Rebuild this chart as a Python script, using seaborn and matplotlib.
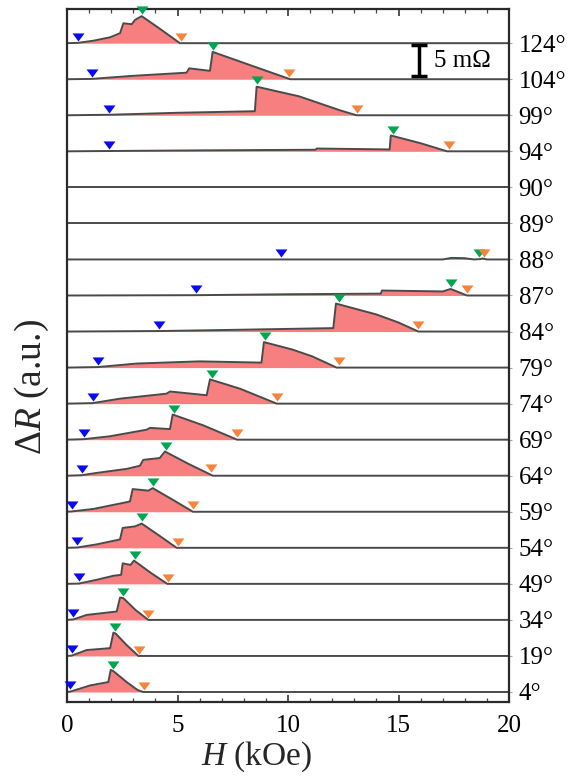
import numpy as np
import pandas as pd
import matplotlib
matplotlib.use("Agg")
import matplotlib.pyplot as plt
from matplotlib.path import Path
import seaborn as sns

# Angles, top trace first
angles = [124, 104, 99, 94, 90, 89, 88, 87, 84, 79, 74, 69, 64, 59, 54, 49, 34, 19, 4]

# Field (kOe) and magnetoresistance change (mOhm) for each angle
H_124 = [0, 0.5, 1.2, 1.95, 2.4, 2.55, 2.93, 3.08, 3.38, 4.25, 5.11, 20]
R_124 = [0, 0.05, 0.4, 0.95, 1.6, 3.2, 3.05, 3.75, 4.35, 2.2, 0, 0]
H_104 = [0, 1.1, 3.0, 5.41, 5.53, 6.47, 6.59, 8.3, 10.1, 20]
R_104 = [0, 0.05, 0.55, 1.05, 1.75, 1.35, 4.4, 2.25, 0, 0]
H_99 = [0, 1.9, 5.0, 8.5, 8.58, 10.5, 12.35, 13.1, 20]
R_99 = [0, 0.08, 0.4, 0.65, 4.6, 3.05, 0.8, 0, 0]
H_94 = [0, 1.9, 6.0, 11.25, 11.3, 14.6, 14.65, 16.0, 17.2, 20]
R_94 = [0, 0.05, 0.15, 0.25, 0.45, 0.3, 2.55, 1.3, 0, 0]
H_90 = [0, 20]
R_90 = [0, 0]
H_89 = [0, 20]
R_89 = [0, 0]
H_88 = [0, 17.0, 17.4, 18.0, 18.4, 18.7, 18.8, 19.0, 20]
R_88 = [0, 0, 0.25, 0.2, 0, 0.05, 0.15, 0, 0]
H_87 = [0, 5.8, 10.0, 14.2, 14.25, 17.0, 17.36, 18.1, 20]
R_87 = [0, 0.05, 0.2, 0.3, 0.8, 0.65, 1.05, 0, 0]
H_84 = [0, 4.2, 8.0, 12.05, 12.17, 14.0, 15.0, 15.9, 20]
R_84 = [0, 0.08, 0.3, 0.55, 4.5, 2.75, 1.45, 0, 0]
H_79 = [0, 1.39, 3.15, 6.0, 8.8, 8.91, 10.2, 11.1, 12.2, 20]
R_79 = [0, 0.08, 0.65, 1.0, 0.8, 4.1, 2.9, 1.8, 0, 0]
H_74 = [0, 1.16, 2.4, 4.5, 4.66, 6.32, 6.47, 7.83, 9.49, 20]
R_74 = [0, 0.08, 0.8, 1.6, 1.95, 1.35, 3.9, 2.4, 0, 0]
H_69 = [0, 0.77, 1.95, 3.6, 3.76, 4.66, 4.78, 6.17, 7.7, 20]
R_69 = [0, 0.08, 0.55, 1.6, 1.9, 1.7, 4.05, 2.3, 0, 0]
H_64 = [0, 0.66, 1.34, 2.7, 3.3, 3.45, 4.2, 4.43, 5.5, 6.6, 20]
R_64 = [0, 0.08, 0.45, 1.1, 1.6, 2.55, 2.85, 3.9, 1.9, 0, 0]
H_59 = [0, 0.21, 1.19, 2.85, 2.97, 3.68, 3.88, 4.8, 5.7, 20]
R_59 = [0, 0.05, 0.45, 1.65, 3.65, 3.4, 3.8, 1.9, 0, 0]
H_54 = [0, 0.47, 1.34, 2.4, 2.52, 3.08, 3.38, 4.2, 4.96, 20]
R_54 = [0, 0.05, 0.55, 1.35, 3.2, 3.45, 3.9, 1.9, 0, 0]
H_49 = [0, 0.54, 1.34, 2.1, 2.45, 2.52, 2.88, 3.03, 3.8, 4.54, 20]
R_49 = [0, 0.05, 0.65, 1.3, 1.45, 3.3, 3.05, 3.75, 1.75, 0, 0]
H_34 = [0, 0.29, 0.89, 2.25, 2.4, 2.55, 3.1, 3.68, 20]
R_34 = [0, 0.08, 0.8, 1.35, 3.6, 3.5, 1.6, 0, 0]
H_19 = [0, 0.21, 0.89, 1.95, 2.1, 2.2, 2.7, 3.23, 20]
R_19 = [0, 0.05, 0.95, 1.25, 3.75, 3.6, 1.75, 0, 0]
H_4 = [0, 0.14, 1.04, 1.87, 1.98, 2.1, 2.7, 3.2, 3.45, 20]
R_4 = [0, 0.05, 1.05, 1.6, 3.55, 3.35, 1.6, 0.3, 0, 0]

# Characteristic fields (kOe) marked on each trace; None = not marked
blue_H = [0.48, 1.12, 1.9, 1.9, None, None, 9.68, 5.82, 4.18, 1.39, 1.16,
          0.77, 0.66, 0.21, 0.47, 0.54, 0.29, 0.21, 0.14]
green_H = [3.38, 6.59, 8.58, 14.77, None, None, 18.66, 17.36, 12.3, 8.96, 6.55,
           4.86, 4.48, 3.91, 3.38, 3.08, 2.55, 2.17, 2.07]
orange_H = [5.16, 10.05, 13.1, 17.3, None, None, 18.87, 18.1, 15.9, 12.32, 9.49,
            7.68, 6.5, 5.69, 5.0, 4.55, 3.68, 3.27, 3.48]

field_lists = [H_124, H_104, H_99, H_94, H_90, H_89, H_88, H_87, H_84, H_79,
               H_74, H_69, H_64, H_59, H_54, H_49, H_34, H_19, H_4]
dr_lists = [R_124, R_104, R_99, R_94, R_90, R_89, R_88, R_87, R_84, R_79,
            R_74, R_69, R_64, R_59, R_54, R_49, R_34, R_19, R_4]

spacing = 5.8  # vertical offset between traces (mOhm)
n = len(angles)
offsets = [(n - 1 - i) * spacing for i in range(n)]

rows = []
for a, hs, rs, off in zip(angles, field_lists, dr_lists, offsets):
    for h, r in zip(hs, rs):
        rows.append({"angle": a, "H": h, "dR": r, "y": r + off})
df = pd.DataFrame(rows)

sns.set_theme(style="white")
plt.rcParams["font.family"] = ["Liberation Serif", "DejaVu Serif"]
plt.rcParams["mathtext.fontset"] = "custom"
plt.rcParams["mathtext.rm"] = "Liberation Serif"
plt.rcParams["mathtext.it"] = "Liberation Serif:italic"

fig = plt.figure(figsize=(5.77, 7.78), dpi=100)
ax = fig.add_axes([67 / 577, 1 - 702 / 778, 442 / 577, 693 / 778])

fill_c = "#f77f7f"
line_c = "#4a4a4a"

for a, off in zip(angles, offsets):
    sub = df[df["angle"] == a]
    ax.fill_between(sub["H"], off, sub["y"], color=fill_c, lw=0, zorder=1)

sns.lineplot(data=df, x="H", y="y", units="angle", estimator=None, sort=False,
             color=line_c, lw=1.4, ax=ax, zorder=2)

tri = Path([(-1, 0.68), (1, 0.68), (0, -0.68), (-1, 0.68)],
           [Path.MOVETO, Path.LINETO, Path.LINETO, Path.CLOSEPOLY])
mark_colors = {"blue": "#0a0aee", "green": "#00a650", "orange": "#f6843a"}
lift = 1.0
for i, (hs, rs, off) in enumerate(zip(field_lists, dr_lists, offsets)):
    for name, lst in (("blue", blue_H), ("green", green_H), ("orange", orange_H)):
        hm = lst[i]
        if hm is None:
            continue
        ym = np.interp(hm, hs, rs) + off + lift
        ax.plot([hm], [ym], linestyle="none", marker=tri, ms=8.6,
                color=mark_colors[name], mec="none", clip_on=False, zorder=5)

# 5 mOhm scale bar
ax.errorbar([15.95], [101.6], yerr=[2.5], fmt="none", ecolor="black",
            elinewidth=2.5, capsize=6, capthick=2.5, zorder=6)
ax.text(16.6, 101.6, "5 mΩ", fontsize=18, va="center", ha="left", color="black")

ax.set_xlim(0, 20)
ax.set_ylim(-1.61, 109.9)

ax.set_xticks([0, 5, 10, 15, 20])
ax.set_xticks(np.arange(0, 21, 1), minor=True)
ax.tick_params(axis="x", which="major", direction="in", length=5, width=1.1,
               top=True, bottom=True, labelsize=18, pad=9, colors="#222222",
               labelcolor="black")
ax.tick_params(axis="x", which="minor", direction="in", length=3, width=0.9,
               top=True, bottom=True, colors="#444444")

ax.yaxis.tick_right()
ax.set_yticks(offsets)
ax.set_yticklabels([f"{a}°" for a in angles])
ax.tick_params(axis="y", which="major", direction="out", length=2, width=0.8,
               colors="#aaaaaa", labelcolor="black", labelsize=18, pad=5,
               left=False, right=True)

for sp in ax.spines.values():
    sp.set_visible(True)
    sp.set_color("#2a2a2a")
    sp.set_linewidth(1.6)

ax.set_xlabel(r"$\mathit{H}$ (kOe)", fontsize=24)
ax.set_ylabel(r"Δ$\mathit{R}$ (a.u.)", fontsize=27)
ax.xaxis.set_label_coords(0.428, -0.079)
ax.xaxis.label.set_va("center")
ax.yaxis.set_label_position("left")
ax.yaxis.set_label_coords(-0.079, 0.455)
ax.yaxis.label.set_va("center")

fig.savefig("out.png", dpi=100)
